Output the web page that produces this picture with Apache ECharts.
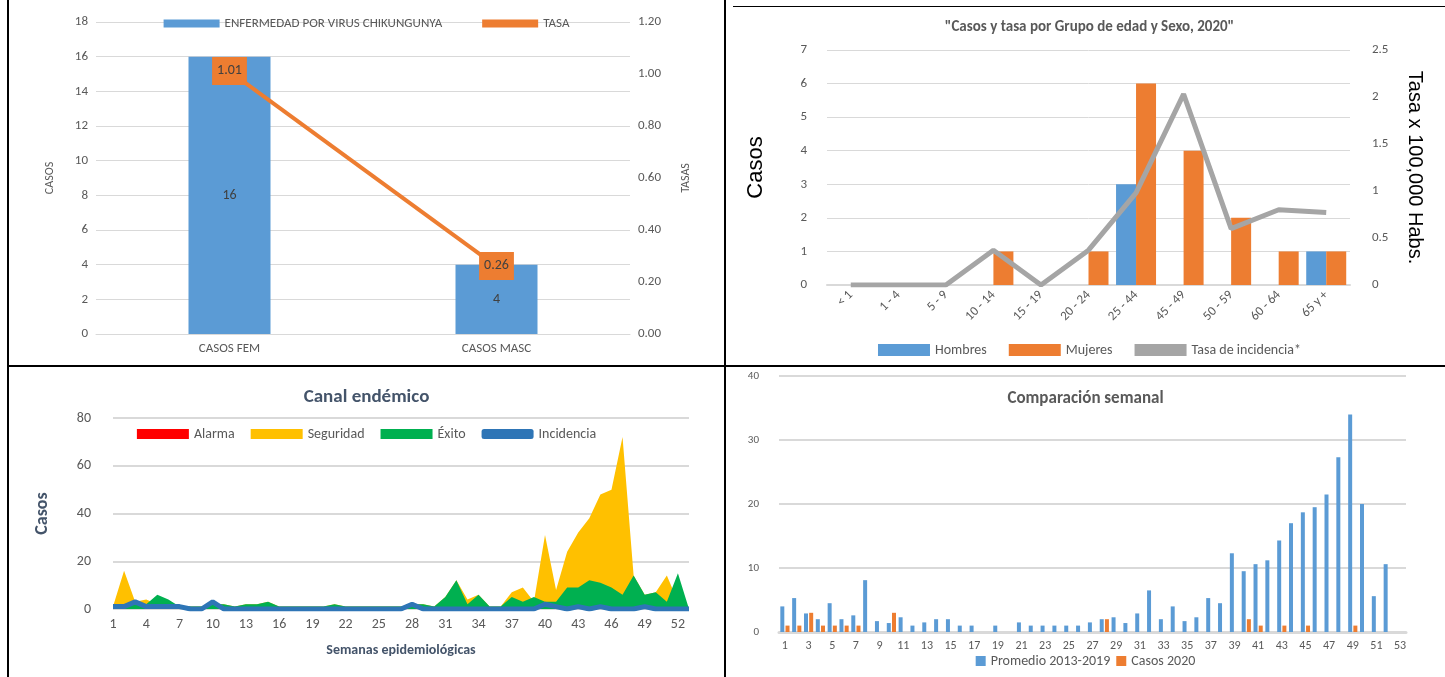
<!DOCTYPE html>
<html><head><meta charset="utf-8">
<script src="https://cdn.jsdelivr.net/npm/echarts@6/dist/echarts.min.js"></script>
<style>
body{margin:0;background:#fff;width:1445px;height:677px;position:relative;overflow:hidden;font-family:Calibri,"Liberation Sans",sans-serif}
.c{position:absolute}
.ln{position:absolute;background:#000}
</style></head><body>
<div class="ln" style="left:7px;top:0;width:2px;height:677px"></div>
<div class="ln" style="left:724px;top:0;width:2px;height:677px"></div>
<div class="ln" style="left:7px;top:365px;width:1438px;height:2px"></div>
<div class="ln" style="left:733px;top:6px;width:712px;height:1px"></div>
<div class="c" id="c1" style="left:9px;top:0;width:715px;height:365px"></div>
<div class="c" id="c2" style="left:734px;top:8px;width:711px;height:357px"></div>
<div class="c" id="c3" style="left:9px;top:367px;width:715px;height:310px"></div>
<div class="c" id="c4" style="left:726px;top:367px;width:719px;height:310px"></div>
<script>
const sexCats = ['CASOS FEM', 'CASOS MASC'];
const sexCases = [16, 4];
const sexRate = [1.01, 0.26];

const ageCats = ['< 1', '1 - 4', '5 - 9', '10 - 14', '15 - 19', '20 - 24', '25 - 44', '45 - 49', '50 - 59', '60 - 64', '65 y +'];
const hombres = [0, 0, 0, 0, 0, 0, 3, 0, 0, 0, 1];
const mujeres = [0, 0, 0, 1, 0, 1, 6, 4, 2, 1, 1];
const tasaEdad = [0, 0, 0, 0.37, 0, 0.37, 0.98, 2.03, 0.6, 0.8, 0.77];

const weeks = Array.from({length: 53}, (_, i) => String(i + 1));
const seguridad = [1,16,3,4,2,2,1,1,1,2,2,1,2,2,3,1,1,1,1,1,2,1,1,1,1,1,1,2,2,1,5,12,4,6,1,1,7,9,3,31,8,24,32,38,48,50,72,14,6,7,14,3,0];
const exito = [1,1,2,2,6,4,1,1,1,2,2,1,2,2,3,1,1,1,1,1,2,1,1,1,1,1,1,2,2,1,5,12,2,6,1,1,5,3,5,3,3,9,9,12,11,9,6,14,6,7,3,15,0];
const alarma = weeks.map(() => 0);
const incidencia = [1,1,3,1,1,1,1,0,0,3,0,0,0,0,0,0,0,0,0,0,0,0,0,0,0,0,0,2,0,0,0,0,0,0,0,0,0,0,0,2,1,0,1,0,1,0,0,0,1,0,0,0,0];

const promedio = [4,5.3,2.9,2,4.5,2,2.6,8.1,1.7,1.4,2.3,1,1.5,2,2,1,1,0,1,0,1.5,1,1,1,1,1,1.5,2,2.3,1.4,2.9,6.5,2,4,1.7,2.3,5.3,4.5,12.3,9.5,10.6,11.2,14.3,17,18.7,19.5,21.5,27.3,34,20,5.6,10.6,0];
const casos2020 = [1,1,3,1,1,1,1,0,0,3,0,0,0,0,0,0,0,0,0,0,0,0,0,0,0,0,0,2,0,0,0,0,0,0,0,0,0,0,0,2,1,0,1,0,1,0,0,0,1,0,0,0,0];

const BLUE = '#5B9BD5', ORANGE = '#ED7D31', GRAY = '#A5A5A5', TXT = '#595959';
const font = 'Calibri, "Liberation Sans Narrow", "Liberation Sans", sans-serif';
const grid = {lineStyle: {color: '#d9d9d9'}};

var c1 = echarts.init(document.getElementById('c1'));
c1.setOption({
	textStyle: {fontFamily: font},
	legend: {top: 12, itemWidth: 56, itemHeight: 8, itemGap: 40, textStyle: {color: TXT, fontSize: 13},
		data: [{name: 'ENFERMEDAD POR VIRUS CHIKUNGUNYA', icon: 'rect'}, {name: 'TASA', icon: 'rect'}]},
	grid: {left: 87, right: 94, top: 22, bottom: 31},
	xAxis: {type: 'category', data: sexCats, axisTick: {show: false}, axisLine: {lineStyle: {color: '#d9d9d9'}},
		axisLabel: {color: TXT, fontSize: 13}},
	yAxis: [
		{type: 'value', min: 0, max: 18, interval: 2, name: 'CASOS', nameLocation: 'middle', nameGap: 40,
			nameTextStyle: {color: TXT, fontSize: 12}, axisLabel: {color: TXT, fontSize: 13}, splitLine: grid},
		{type: 'value', min: 0, max: 1.2, interval: 0.2, name: 'TASAS', nameLocation: 'middle', nameGap: 50, nameRotate: 90,
			nameTextStyle: {color: TXT, fontSize: 12}, axisLabel: {color: TXT, fontSize: 13, formatter: v => v.toFixed(2)}, splitLine: {show: false}}
	],
	series: [
		{name: 'ENFERMEDAD POR VIRUS CHIKUNGUNYA', type: 'bar', data: sexCases, barWidth: 82, itemStyle: {color: BLUE},
			label: {show: true, position: 'inside', color: '#404040', fontSize: 14}},
		{name: 'TASA', type: 'line', yAxisIndex: 1, data: sexRate, symbol: 'circle', symbolSize: 1, showSymbol: true,
			lineStyle: {color: ORANGE, width: 4}, itemStyle: {color: ORANGE},
			label: {show: true, position: 'top', offset: [0, 19], backgroundColor: ORANGE, padding: [7, 5], color: '#404040', fontSize: 14, formatter: p => p.value.toFixed(2)}}
	]
});

var c2 = echarts.init(document.getElementById('c2'));
c2.setOption({
	textStyle: {fontFamily: font},
	title: {text: '"Casos y tasa por Grupo de edad y Sexo, 2020"', left: 'center', top: 7, textStyle: {color: TXT, fontSize: 15, fontWeight: 'bold'}},
	legend: {bottom: 3, itemWidth: 52, itemHeight: 12, itemGap: 22, textStyle: {color: TXT, fontSize: 14},
		data: [{name: 'Hombres', icon: 'rect'}, {name: 'Mujeres', icon: 'rect'}, {name: 'Tasa de incidencia*', icon: 'rect'}]},
	grid: {left: 93, right: 95, top: 42, bottom: 80},
	xAxis: {type: 'category', data: ageCats, axisTick: {show: false}, axisLine: {lineStyle: {color: '#d9d9d9', width: 2}},
		axisLabel: {color: TXT, fontSize: 13, rotate: 45, interval: 0}},
	yAxis: [
		{type: 'value', min: 0, max: 7, interval: 1, name: 'Casos', nameLocation: 'middle', nameGap: 60,
			nameTextStyle: {color: '#000', fontSize: 22, fontFamily: 'Liberation Sans'}, axisLabel: {color: TXT, fontSize: 13, margin: 20}, splitLine: grid},
		{type: 'value', min: 0, max: 2.5, interval: 0.5, name: 'Tasa x 100,000 Habs.', nameLocation: 'middle', nameGap: 55, nameRotate: -90,
			nameTextStyle: {color: '#000', fontSize: 20, fontFamily: 'Liberation Sans'}, axisLabel: {color: TXT, fontSize: 13, margin: 22}, splitLine: {show: false}}
	],
	series: [
		{name: 'Hombres', type: 'bar', data: hombres, barWidth: 20, barGap: '0%', itemStyle: {color: BLUE}},
		{name: 'Mujeres', type: 'bar', data: mujeres, barWidth: 20, itemStyle: {color: ORANGE}},
		{name: 'Tasa de incidencia*', type: 'line', yAxisIndex: 1, data: tasaEdad, symbol: 'none', lineStyle: {color: GRAY, width: 5}, itemStyle: {color: GRAY}}
	]
});

var c3 = echarts.init(document.getElementById('c3'));
c3.setOption({
	textStyle: {fontFamily: font},
	title: {text: 'Canal endémico', left: 'center', top: 16, textStyle: {color: '#44546A', fontSize: 19, fontWeight: 'bold'}},
	legend: {top: 55, itemWidth: 52, itemHeight: 10, itemGap: 16, textStyle: {color: TXT, fontSize: 14},
		data: [{name: 'Alarma', icon: 'rect'}, {name: 'Seguridad', icon: 'rect'}, {name: 'Éxito', icon: 'rect'}, {name: 'Incidencia', icon: 'roundRect'}]},
	grid: {left: 104, right: 35, top: 51, bottom: 68},
	xAxis: {type: 'category', data: weeks, boundaryGap: false, axisTick: {show: false}, axisLine: {show: false},
		axisLabel: {color: TXT, fontSize: 14, interval: 2},
		name: 'Semanas epidemiológicas', nameLocation: 'middle', nameGap: 34, nameTextStyle: {color: '#44546A', fontSize: 14, fontWeight: 'bold'}},
	yAxis: {type: 'value', min: 0, max: 80, interval: 20, name: 'Casos', nameLocation: 'middle', nameGap: 62,
		nameTextStyle: {color: '#44546A', fontSize: 18, fontWeight: 'bold'}, axisLabel: {color: TXT, fontSize: 14, margin: 22},
		splitLine: {lineStyle: {color: '#d9d9d9', width: 2}}},
	series: [
		{name: 'Alarma', type: 'line', data: alarma, symbol: 'none', lineStyle: {width: 0}, itemStyle: {color: '#FF0000'}, areaStyle: {color: '#FF0000', opacity: 1}},
		{name: 'Seguridad', type: 'line', data: seguridad, symbol: 'none', lineStyle: {width: 0}, itemStyle: {color: '#FFC000'}, areaStyle: {color: '#FFC000', opacity: 1}},
		{name: 'Éxito', type: 'line', data: exito, symbol: 'none', lineStyle: {width: 0}, itemStyle: {color: '#00B050'}, areaStyle: {color: '#00B050', opacity: 1}},
		{name: 'Incidencia', type: 'line', data: incidencia, symbol: 'none', lineStyle: {color: '#2E75B6', width: 5}, itemStyle: {color: '#2E75B6'}}
	]
});

var c4 = echarts.init(document.getElementById('c4'));
c4.setOption({
	textStyle: {fontFamily: font},
	title: {text: 'Comparación semanal', left: 'center', top: 18, textStyle: {color: TXT, fontSize: 17, fontWeight: 'bold'}},
	legend: {bottom: 4, itemWidth: 10, itemHeight: 10, itemGap: 6, textStyle: {color: TXT, fontSize: 14},
		data: [{name: 'Promedio 2013-2019', icon: 'rect'}, {name: 'Casos 2020', icon: 'rect'}]},
	grid: {left: 53, right: 39, top: 9, bottom: 45},
	xAxis: {type: 'category', data: weeks, axisTick: {show: false}, axisLine: {lineStyle: {color: '#d9d9d9', width: 3}},
		axisLabel: {color: TXT, fontSize: 12, interval: 1}},
	yAxis: {type: 'value', min: 0, max: 40, interval: 10, axisLabel: {color: TXT, fontSize: 11, margin: 20},
		splitLine: {lineStyle: {color: '#d9d9d9', width: 2}}},
	series: [
		{name: 'Promedio 2013-2019', type: 'bar', data: promedio, barWidth: 4, barGap: '30%', itemStyle: {color: BLUE}},
		{name: 'Casos 2020', type: 'bar', data: casos2020, barWidth: 4, itemStyle: {color: ORANGE}}
	]
});
</script>
</body></html>
